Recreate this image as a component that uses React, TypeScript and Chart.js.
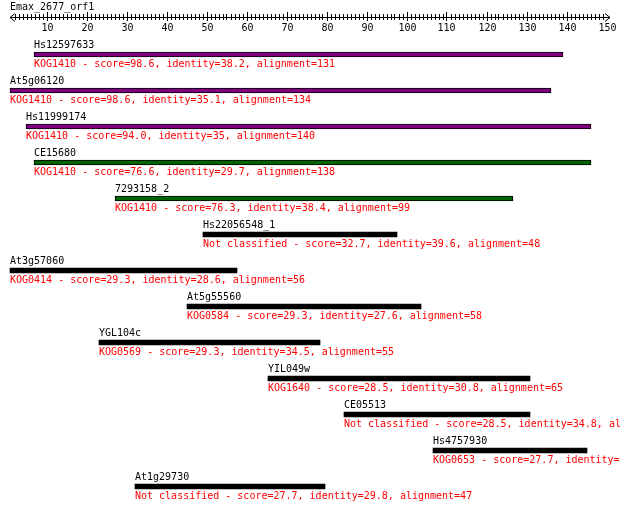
import React, { useEffect, useRef } from "react";
import { Chart, registerables } from "chart.js";

Chart.register(...registerables);

const queryName = "Emax_2677_orf1";
const axisMin = 0;
const axisMax = 150;
const axisLabels = [10, 20, 30, 40, 50, 60, 70, 80, 90, 100, 110, 120, 130, 140, 150];

const hitNames = [
  "Hs12597633",
  "At5g06120",
  "Hs11999174",
  "CE15680",
  "7293158_2",
  "Hs22056548_1",
  "At3g57060",
  "At5g55560",
  "YGL104c",
  "YIL049w",
  "CE05513",
  "Hs4757930",
  "At1g29730",
];
const hitClasses = [
  "KOG1410",
  "KOG1410",
  "KOG1410",
  "KOG1410",
  "KOG1410",
  "Not classified",
  "KOG0414",
  "KOG0584",
  "KOG0569",
  "KOG1640",
  "Not classified",
  "KOG0653",
  "Not classified",
];
const hitScores = [98.6, 98.6, 94.0, 76.6, 76.3, 32.7, 29.3, 29.3, 29.3, 28.5, 28.5, 27.7, 27.7];
const hitIdentities = [38.2, 35.1, 35, 29.7, 38.4, 39.6, 28.6, 27.6, 34.5, 30.8, 34.8, 31.6, 29.8];
const hitAlignments = [131, 134, 140, 138, 99, 48, 56, 58, 55, 65, 47, 38, 47];
const hitStarts = [6.75, 0.75, 4.75, 6.75, 27, 49, 0.75, 45, 23, 65.25, 84.25, 106.5, 32];
const hitEnds = [139, 136, 146, 146, 126.5, 97.5, 57.5, 103.5, 78.25, 130.75, 130.75, 145, 79.5];
const hitTiers = ["top", "top", "top", "mid", "mid", "low", "low", "low", "low", "low", "low", "low", "low"];

const tierFill: Record<string, string> = { top: "#800080", mid: "#006400", low: "#000000" };
const FONT = '10px "DejaVu Sans Mono", "Liberation Mono", monospace';

const overlayPlugin = {
  id: "overlay",
  afterDatasetsDraw(chart: any) {
    const ctx = chart.ctx as CanvasRenderingContext2D;
    const xs = chart.scales.x;
    ctx.save();
    ctx.font = FONT;
    ctx.textBaseline = "alphabetic";
    ctx.textAlign = "left";
    ctx.fillStyle = "#000";
    ctx.fillText(queryName, 10, 10);

    // ruler
    const y = 17.5;
    const x0 = 10;
    const x1 = 610;
    ctx.strokeStyle = "#000";
    ctx.lineWidth = 1;
    ctx.beginPath();
    ctx.moveTo(x0, y);
    ctx.lineTo(x1, y);
    ctx.moveTo(x0 + 5, y - 4);
    ctx.lineTo(x0, y);
    ctx.lineTo(x0 + 5, y + 4);
    ctx.moveTo(x1 - 5, y - 4);
    ctx.lineTo(x1, y);
    ctx.lineTo(x1 - 5, y + 4);
    for (let v = axisMin + 2; v < axisMax; v++) {
      const px = Math.floor(xs.getPixelForValue(v)) + 0.5;
      const major = v % 10 === 0;
      ctx.moveTo(px, major ? 12 : 14);
      ctx.lineTo(px, major ? 21 : 20);
    }
    ctx.stroke();

    ctx.textAlign = "center";
    ctx.fillStyle = "#000";
    axisLabels.forEach((t) => {
      const px = Math.floor(xs.getPixelForValue(t)) + 0.5;
      ctx.fillText(String(t), px, 31);
    });

    // hit labels
    ctx.textAlign = "left";
    const meta = chart.getDatasetMeta(0);
    meta.data.forEach((bar: any, i: number) => {
      const left = Math.round(Math.min(bar.x, bar.base));
      const top = Math.round(bar.y - bar.height / 2);
      ctx.fillStyle = "#000";
      ctx.fillText(hitNames[i], left, top - 4);
      ctx.fillStyle = "#ff0000";
      const desc = `${hitClasses[i]} - score=${hitScores[i].toFixed(1)}, identity=${hitIdentities[i]}, alignment=${hitAlignments[i]}`;
      ctx.fillText(desc, left, top + 15);
    });
    ctx.restore();
  },
};

export default function App() {
  const ref = useRef<HTMLCanvasElement | null>(null);
  useEffect(() => {
    if (!ref.current) return;
    const chart = new Chart(ref.current, {
      type: "bar",
      data: {
        labels: hitNames,
        datasets: [
          {
            data: hitStarts.map((s, i) => [s, hitEnds[i]]) as any,
            backgroundColor: hitTiers.map((t) => tierFill[t]),
            borderColor: "#000000",
            borderWidth: hitTiers.map((t) => (t === "low" ? 0 : 1)) as any,
            borderSkipped: false,
            barThickness: 5,
          },
        ],
      },
      options: {
        indexAxis: "y",
        responsive: false,
        animation: false,
        devicePixelRatio: 1,
        layout: { padding: { left: 7, right: 13, top: 36.5, bottom: 4.5 } },
        plugins: { legend: { display: false }, tooltip: { enabled: false } },
        scales: {
          x: { type: "linear", min: axisMin, max: axisMax, display: false },
          y: { display: false, offset: true },
        },
      },
      plugins: [overlayPlugin],
    });
    return () => chart.destroy();
  }, []);
  return (
    <div style={{ position: "fixed", left: 0, top: 0, width: 620, height: 509, background: "#fff" }}>
      <canvas ref={ref} width={620} height={509} style={{ display: "block" }} />
    </div>
  );
}
